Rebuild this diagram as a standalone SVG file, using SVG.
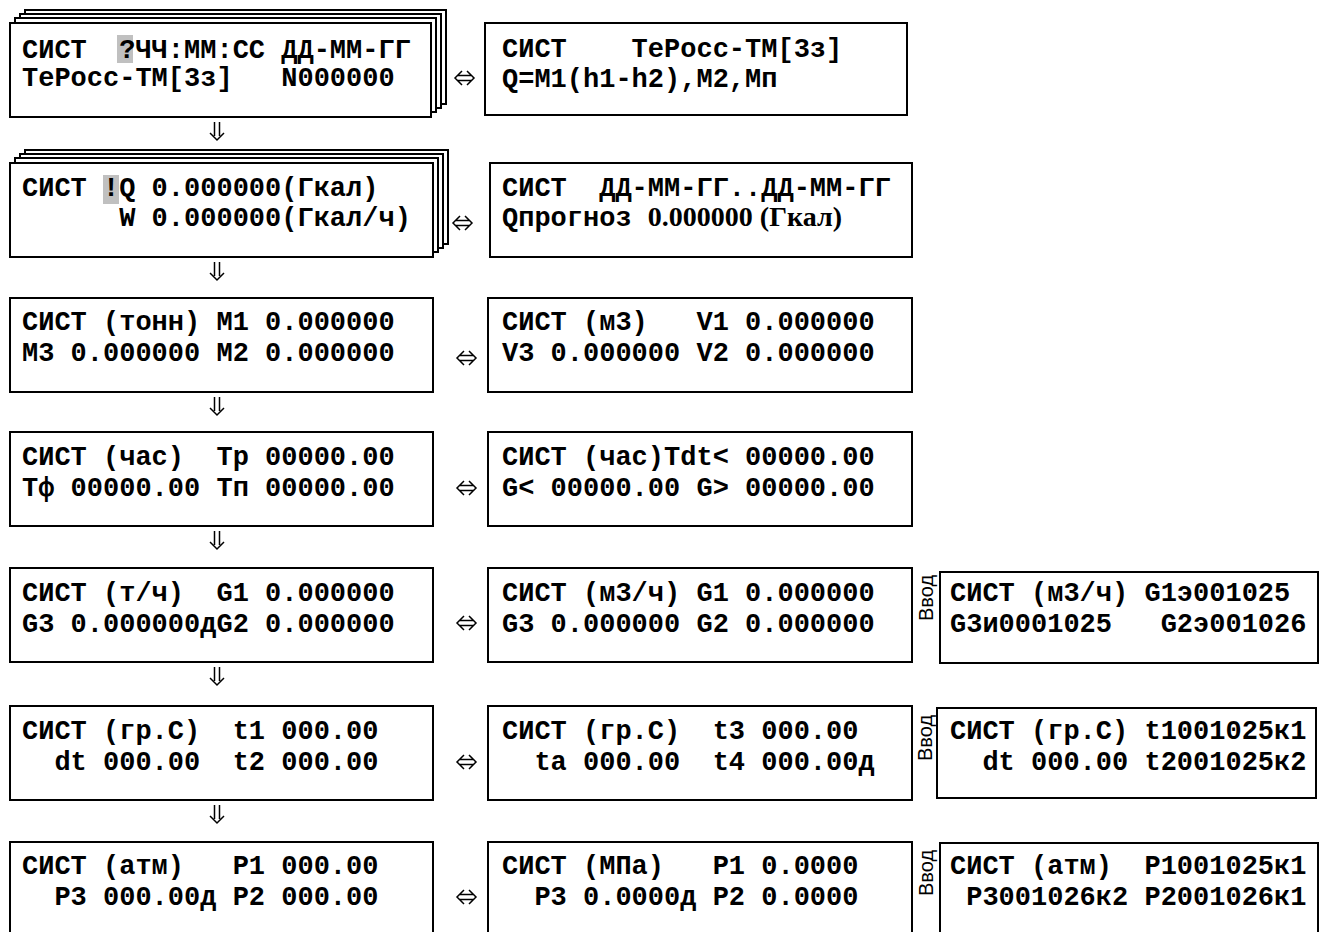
<svg xmlns="http://www.w3.org/2000/svg" width="1323" height="932" viewBox="0 0 1323 932">
<style>
.box{fill:#fff;stroke:#000;stroke-width:2}
.t{font-family:"Liberation Mono","Courier New",monospace;font-weight:bold;font-size:27px;white-space:pre;fill:#000}
.ts{font-family:"Liberation Serif","Times New Roman",serif;font-weight:bold;font-size:28px}
.hl{fill:#c0c0c0}
.arr{fill:none;stroke:#000;stroke-width:1.5}
.lbl{font-family:"Liberation Sans",Arial,sans-serif;font-size:20px;fill:#000}
</style>
<rect width="1323" height="932" fill="#fff"/>

<g id="connectors">
  <path class="arr" d="M462,71 L455,78 L462,85 M457,75.5 H472 M457,80.5 H472 M467,71 L474,78 L467,85"/>
  <path class="arr" d="M460,216 L453,223 L460,230 M455,220.5 H470 M455,225.5 H470 M465,216 L472,223 L465,230"/>
  <path class="arr" d="M464,351 L457,358 L464,365 M459,355.5 H474 M459,360.5 H474 M469,351 L476,358 L469,365"/>
  <path class="arr" d="M464,481 L457,488 L464,495 M459,485.5 H474 M459,490.5 H474 M469,481 L476,488 L469,495"/>
  <path class="arr" d="M464,616 L457,623 L464,630 M459,620.5 H474 M459,625.5 H474 M469,616 L476,623 L469,630"/>
  <path class="arr" d="M464,755 L457,762 L464,769 M459,759.5 H474 M459,764.5 H474 M469,755 L476,762 L469,769"/>
  <path class="arr" d="M464,890 L457,897 L464,904 M459,894.5 H474 M459,899.5 H474 M469,890 L476,897 L469,904"/>
  <path class="arr" d="M214.5,122 V136 M219.5,122 V136 M210,133 L217,140 L224,133"/>
  <path class="arr" d="M214.5,262 V276 M219.5,262 V276 M210,273 L217,280 L224,273"/>
  <path class="arr" d="M214.5,397 V411 M219.5,397 V411 M210,408 L217,415 L224,408"/>
  <path class="arr" d="M214.5,531 V545 M219.5,531 V545 M210,542 L217,549 L224,542"/>
  <path class="arr" d="M214.5,667 V681 M219.5,667 V681 M210,678 L217,685 L224,678"/>
  <path class="arr" d="M214.5,805 V819 M219.5,805 V819 M210,816 L217,823 L224,816"/>
</g>

<g id="n1">
  <rect class="box" x="25" y="10" width="421" height="94"/>
  <rect class="box" x="20" y="14" width="421" height="94"/>
  <rect class="box" x="15" y="18" width="421" height="94"/>
  <rect class="box" x="10" y="23" width="421" height="94"/>
  <rect class="hl" x="117" y="35" width="16" height="28"/>
  <text class="t" x="22" y="58" xml:space="preserve">СИСТ  ?ЧЧ:ММ:СС ДД-ММ-ГГ</text>
  <text class="t" x="22" y="86" xml:space="preserve">ТеРосс-ТМ[3з]   N000000</text>
</g>
<g id="n1r">
  <rect class="box" x="485" y="23" width="422" height="92"/>
  <text class="t" x="502" y="57" xml:space="preserve">СИСТ    ТеРосс-ТМ[3з]</text>
  <text class="t" x="502" y="87" xml:space="preserve">Q=M1(h1-h2),M2,Mп</text>
</g>

<g id="n2">
  <rect class="box" x="25" y="150" width="423" height="94"/>
  <rect class="box" x="20" y="154" width="423" height="94"/>
  <rect class="box" x="15" y="158" width="423" height="94"/>
  <rect class="box" x="10" y="163" width="423" height="94"/>
  <rect class="hl" x="103" y="175" width="16" height="29"/>
  <text class="t" x="22" y="196" xml:space="preserve">СИСТ !Q 0.000000(Гкал)</text>
  <text class="t" x="22" y="226" xml:space="preserve">      W 0.000000(Гкал/ч)</text>
</g>
<g id="n2r">
  <rect class="box" x="490" y="163" width="422" height="94"/>
  <text class="t" x="502" y="196" xml:space="preserve">СИСТ  ДД-ММ-ГГ..ДД-ММ-ГГ</text>
  <text class="t" x="502" y="226" xml:space="preserve">Qпрогноз <tspan class="ts">0.000000 (Гкал)</tspan></text>
</g>

<g id="n3">
  <rect class="box" x="10" y="298" width="423" height="94"/>
  <text class="t" x="22" y="330" xml:space="preserve">СИСТ (тонн) M1 0.000000</text>
  <text class="t" x="22" y="361" xml:space="preserve">M3 0.000000 M2 0.000000</text>
</g>
<g id="n3r">
  <rect class="box" x="488" y="298" width="424" height="94"/>
  <text class="t" x="502" y="330" xml:space="preserve">СИСТ (м3)   V1 0.000000</text>
  <text class="t" x="502" y="361" xml:space="preserve">V3 0.000000 V2 0.000000</text>
</g>

<g id="n4">
  <rect class="box" x="10" y="432" width="423" height="94"/>
  <text class="t" x="22" y="465" xml:space="preserve">СИСТ (час)  Тр 00000.00</text>
  <text class="t" x="22" y="496" xml:space="preserve">Тф 00000.00 Тп 00000.00</text>
</g>
<g id="n4r">
  <rect class="box" x="488" y="432" width="424" height="94"/>
  <text class="t" x="502" y="465" xml:space="preserve">СИСТ (час)Tdt&lt; 00000.00</text>
  <text class="t" x="502" y="496" xml:space="preserve">G&lt; 00000.00 G&gt; 00000.00</text>
</g>

<g id="n5">
  <rect class="box" x="10" y="568" width="423" height="94"/>
  <text class="t" x="22" y="601" xml:space="preserve">СИСТ (т/ч)  G1 0.000000</text>
  <text class="t" x="22" y="632" xml:space="preserve">G3 0.000000дG2 0.000000</text>
</g>
<g id="n5r">
  <rect class="box" x="488" y="568" width="424" height="94"/>
  <text class="t" x="502" y="601" xml:space="preserve">СИСТ (м3/ч) G1 0.000000</text>
  <text class="t" x="502" y="632" xml:space="preserve">G3 0.000000 G2 0.000000</text>
</g>
<g id="n5v">
  <text class="lbl" transform="translate(933,598) rotate(-90)" text-anchor="middle">Ввод</text>
  <rect class="box" x="940" y="572" width="378" height="91"/>
  <text class="t" x="950" y="601" xml:space="preserve">СИСТ (м3/ч) G1э001025</text>
  <text class="t" x="950" y="632" xml:space="preserve">G3и0001025   G2э001026</text>
</g>

<g id="n6">
  <rect class="box" x="10" y="706" width="423" height="94"/>
  <text class="t" x="22" y="739" xml:space="preserve">СИСТ (гр.С)  t1 000.00</text>
  <text class="t" x="22" y="770" xml:space="preserve">  dt 000.00  t2 000.00</text>
</g>
<g id="n6r">
  <rect class="box" x="488" y="706" width="424" height="94"/>
  <text class="t" x="502" y="739" xml:space="preserve">СИСТ (гр.С)  t3 000.00</text>
  <text class="t" x="502" y="770" xml:space="preserve">  ta 000.00  t4 000.00д</text>
</g>
<g id="n6v">
  <text class="lbl" transform="translate(932,738) rotate(-90)" text-anchor="middle">Ввод</text>
  <rect class="box" x="937" y="708" width="379" height="90"/>
  <text class="t" x="950" y="739" xml:space="preserve">СИСТ (гр.С) t1001025к1</text>
  <text class="t" x="950" y="770" xml:space="preserve">  dt 000.00 t2001025к2</text>
</g>

<g id="n7">
  <rect class="box" x="10" y="842" width="423" height="100"/>
  <text class="t" x="22" y="874" xml:space="preserve">СИСТ (атм)   P1 000.00</text>
  <text class="t" x="22" y="905" xml:space="preserve">  P3 000.00д P2 000.00</text>
</g>
<g id="n7r">
  <rect class="box" x="488" y="842" width="424" height="100"/>
  <text class="t" x="502" y="874" xml:space="preserve">СИСТ (МПа)   P1 0.0000</text>
  <text class="t" x="502" y="905" xml:space="preserve">  P3 0.0000д P2 0.0000</text>
</g>
<g id="n7v">
  <text class="lbl" transform="translate(933,873) rotate(-90)" text-anchor="middle">Ввод</text>
  <rect class="box" x="940" y="843" width="378" height="100"/>
  <text class="t" x="950" y="874" xml:space="preserve">СИСТ (атм)  P1001025к1</text>
  <text class="t" x="950" y="905" xml:space="preserve"> P3001026к2 P2001026к1</text>
</g>
</svg>
